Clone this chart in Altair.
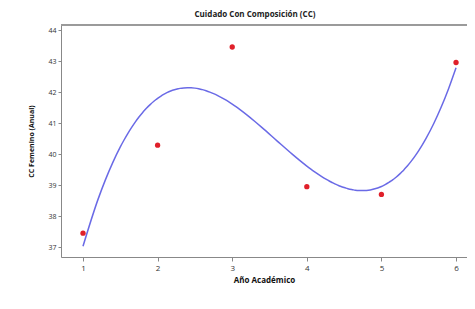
import altair as alt
import pandas as pd

years = [1, 2, 3, 4, 5, 6]
cc_values = [37.45, 40.29, 43.46, 38.95, 38.70, 42.96]
y_ticks = [37, 38, 39, 40, 41, 42, 43, 44]

df = pd.DataFrame({"year": years, "cc": cc_values})

xscale = alt.Scale(domain=[0.705, 6.147], nice=False, zero=False)
yscale = alt.Scale(domain=[36.68, 44.17], nice=False, zero=False)

xaxis = alt.Axis(title="Año Académico", values=years, format="d", grid=False,
                 labelFontSize=8, titleFontSize=8, titleFontWeight="bold",
                 labelColor="#333", titleColor="#111", domainColor="#888",
                 tickColor="#888", tickSize=4, labelPadding=3, titlePadding=4,
                 labelOverlap=False)
yaxis = alt.Axis(title="CC Femenino (Anual)", values=y_ticks, format="d", grid=False,
                 labelFontSize=7, titleFontSize=7, titleFontWeight="bold",
                 labelColor="#333", titleColor="#111", domainColor="#888",
                 tickColor="#888", tickSize=3, labelPadding=2, titlePadding=13,
                 labelOverlap=False)

base = alt.Chart(df)

points = base.mark_circle(color="#e0202a", size=28, opacity=1).encode(
    x=alt.X("year:Q", scale=xscale, axis=xaxis),
    y=alt.Y("cc:Q", scale=yscale, axis=yaxis),
)

curve = base.transform_regression(
    "year", "cc", method="poly", order=3, extent=[1, 6], params=False
).mark_line(color="#6a6ae6", strokeWidth=1.5, interpolate="monotone").encode(
    x=alt.X("year:Q", scale=xscale, axis=xaxis),
    y=alt.Y("cc:Q", scale=yscale, axis=yaxis),
)

top_border = base.mark_rule(color="#999", strokeWidth=1).encode(
    x=alt.value(0), x2=alt.value(406), y=alt.value(0)
)

chart = alt.layer(curve, points, top_border).properties(
    width=406, height=232,
    title=alt.TitleParams("Cuidado Con Composición (CC)", fontSize=8, fontWeight="bold",
                          color="#222", dx=-9, offset=6),
    autosize=alt.AutoSizeParams(type="none"),
    padding={"left": 53, "top": 17, "right": 0, "bottom": 30},
).configure_view(stroke=None).configure(font="Open Sans").configure_axis(labelOverlap=False)

chart.save("out.html", embed_options={"renderer": "svg", "actions": False})
